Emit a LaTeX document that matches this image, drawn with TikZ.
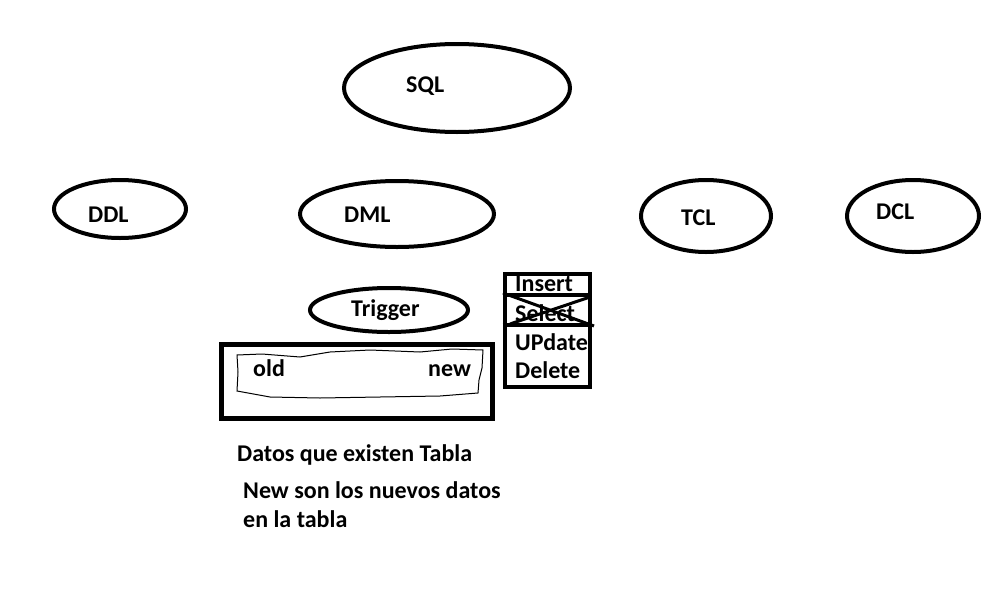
\documentclass[tikz,border=0pt]{standalone}
\usepackage{fontspec}
\setmainfont{Carlito}
\usepackage{tikz}
\usetikzlibrary{shapes,positioning}
\tikzstyle{lang} = [ellipse, draw, line width=4pt, inner sep=0pt]
\tikzstyle{word} = [font=\fontsize{24}{29}\selectfont\bfseries, inner sep=0pt, anchor=base west]
\tikzstyle{note} = [word, align=left]

\begin{document}
\begin{tikzpicture}[x=1pt, y=-1pt]
    \useasboundingbox (0,0) rectangle (1004,592);
    % the languages
    \node [lang, minimum width=226pt, minimum height=88pt] (sql) at (457,88) {};
    \node [lang, minimum width=132pt, minimum height=58pt] (ddl) at (120,209) {};
    \node [lang, minimum width=194pt, minimum height=66pt] (dml) at (397,214) {};
    \node [lang, minimum width=130pt, minimum height=72pt] (tcl) at (706,216) {};
    \node [lang, minimum width=132pt, minimum height=72pt] (dcl) at (913,216) {};
    \node [word] (sqltxt) at (406,92) {SQL};
    \node [word] (ddltxt) at (88,222) {DDL};
    \node [word] (dmltxt) at (344,222) {DML};
    \node [word] (tcltxt) at (681,225) {TCL};
    \node [word] (dcltxt) at (876,219) {DCL};

    % trigger
    \node [lang, minimum width=158pt, minimum height=44pt] (trigger) at (389,310) {};
    \node [word] (trigtxt) at (351,316) {Trigger};
    \node [draw, line width=5pt, minimum width=271pt, minimum height=74pt] (table) at (357,381) {};
    \draw [line width=1pt] (237,355) -- (262,354) -- (300,357) -- (330,352) -- (370,350)
        -- (420,352) -- (452,349) -- (483,350) -- (482,368) -- (479,380) -- (478,393)
        -- (440,396) -- (380,397) -- (320,398) -- (270,397) -- (248,393) -- (237,391)
        -- (238,372) -- cycle;
    \node [word] (old) at (253,376) {old};
    \node [word] (new) at (428,376) {new};

    % operations
    \node [draw, line width=4pt, minimum width=85pt, minimum height=113pt] (ops) at (547,330) {};
    \draw [line width=4pt] (ops.west |- 0,295) coordinate (s1) -- (ops.east |- 0,295);
    \draw [line width=4pt] (ops.west |- 0,325) coordinate (s2) -- (ops.east |- 0,325);
    \node [word] (insert) at (515,291) {Insert};
    \node [word] (select) at (515,321) {Select};
    \node [word] (update) at (515,350) {UPdate};
    \node [word] (delete) at (515,378) {Delete};
    \draw [line width=3pt] (503,293) -- (594,326);
    \draw [line width=3pt] (510,324) -- (590,297);

    % notes
    \node [note] (datos) at (237,461) {Datos que existen Tabla};
    \node [note] (nuevos) at (243,527) {New son los nuevos datos\\en la tabla};
\end{tikzpicture}
\end{document}
